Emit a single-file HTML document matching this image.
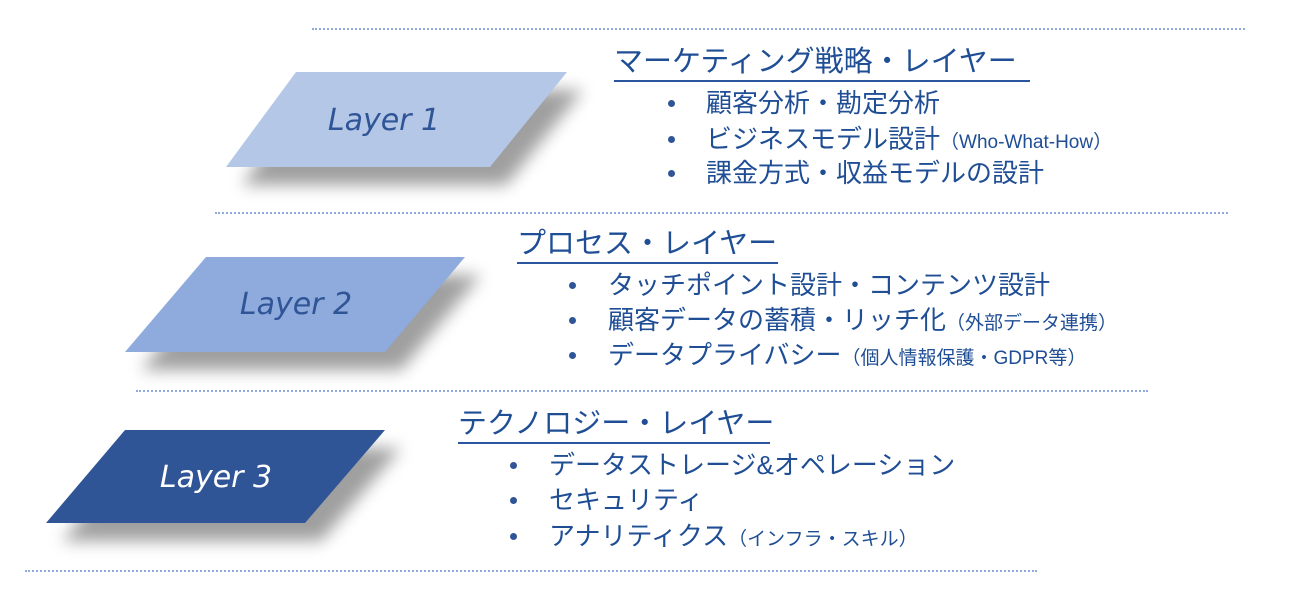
<!DOCTYPE html>
<html><head><meta charset="utf-8"><style>
html,body{margin:0;padding:0;background:#fff;}
body{width:1300px;height:601px;position:relative;overflow:hidden;font-family:"Liberation Sans","Noto Sans CJK JP",sans-serif;color:#1f4e95;}
.t{position:absolute;white-space:nowrap;line-height:1;}
.title{font-size:29px;border-bottom:2px solid #2a55a0;padding-bottom:3px;}
.b{font-size:26px;}
.s{font-size:19px;}
.dot{position:absolute;width:7px;height:7px;border-radius:50%;background:#2f5597;}
.hl{position:absolute;height:0;border-top:2px dotted #8faadc;}
</style></head><body>
<svg width="1300" height="601" style="position:absolute;left:0;top:0">
<defs><filter id="sh" x="-20%" y="-20%" width="150%" height="180%"><feGaussianBlur stdDeviation="8"/></filter></defs>
<polygon points="312,90 583,90 506,185 242,185" fill="#777" opacity="0.7" filter="url(#sh)"/>
<polygon points="296,72 567,72 490,167 226,167" fill="#b4c7e7"/>
<polygon points="222,275 481,275 401,370 141,370" fill="#777" opacity="0.7" filter="url(#sh)"/>
<polygon points="206,257 465,257 385,352 125,352" fill="#8faadc"/>
<polygon points="141,448 401,448 321,541 62,541" fill="#777" opacity="0.7" filter="url(#sh)"/>
<polygon points="125,430 385,430 305,523 46,523" fill="#2f5597"/>
<text x="384" y="130" font-family="DejaVu Sans" font-style="italic" font-size="30" fill="#2f5597" text-anchor="middle">Layer 1</text>
<text x="296" y="314" font-family="DejaVu Sans" font-style="italic" font-size="30" fill="#2f5597" text-anchor="middle">Layer 2</text>
<text x="216" y="487" font-family="DejaVu Sans" font-style="italic" font-size="30" fill="#ffffff" text-anchor="middle">Layer 3</text>
</svg>
<div class="hl" style="left:312px;width:933px;top:28px"></div>
<div class="hl" style="left:215px;width:1013px;top:212px"></div>
<div class="hl" style="left:136px;width:1012px;top:390px"></div>
<div class="hl" style="left:25px;width:1012px;top:570px"></div>

<div class="t title" style="left:614px;top:48px;width:416px">マーケティング戦略・レイヤー</div>
<div class="dot" style="left:668px;top:100px"></div><div class="t b" style="left:706px;top:90px">顧客分析・勘定分析</div>
<div class="dot" style="left:668px;top:136px"></div><div class="t b" style="left:706px;top:126px">ビジネスモデル設計<span class="s">（Who-What-How）</span></div>
<div class="dot" style="left:668px;top:170px"></div><div class="t b" style="left:706px;top:160px">課金方式・収益モデルの設計</div>

<div class="t title" style="left:517px;top:230px;width:261px">プロセス・レイヤー</div>
<div class="dot" style="left:569px;top:282px"></div><div class="t b" style="left:608px;top:272px">タッチポイント設計・コンテンツ設計</div>
<div class="dot" style="left:569px;top:317px"></div><div class="t b" style="left:608px;top:307px">顧客データの蓄積・リッチ化<span class="s">（外部データ連携）</span></div>
<div class="dot" style="left:569px;top:352px"></div><div class="t b" style="left:608px;top:342px">データプライバシー<span class="s">（個人情報保護・GDPR等）</span></div>

<div class="t title" style="left:458px;top:410px;width:312px">テクノロジー・レイヤー</div>
<div class="dot" style="left:510px;top:462px"></div><div class="t b" style="left:549px;top:452px">データストレージ&amp;オペレーション</div>
<div class="dot" style="left:510px;top:497px"></div><div class="t b" style="left:549px;top:487px">セキュリティ</div>
<div class="dot" style="left:510px;top:533px"></div><div class="t b" style="left:549px;top:523px">アナリティクス<span class="s">（インフラ・スキル）</span></div>
</body></html>
